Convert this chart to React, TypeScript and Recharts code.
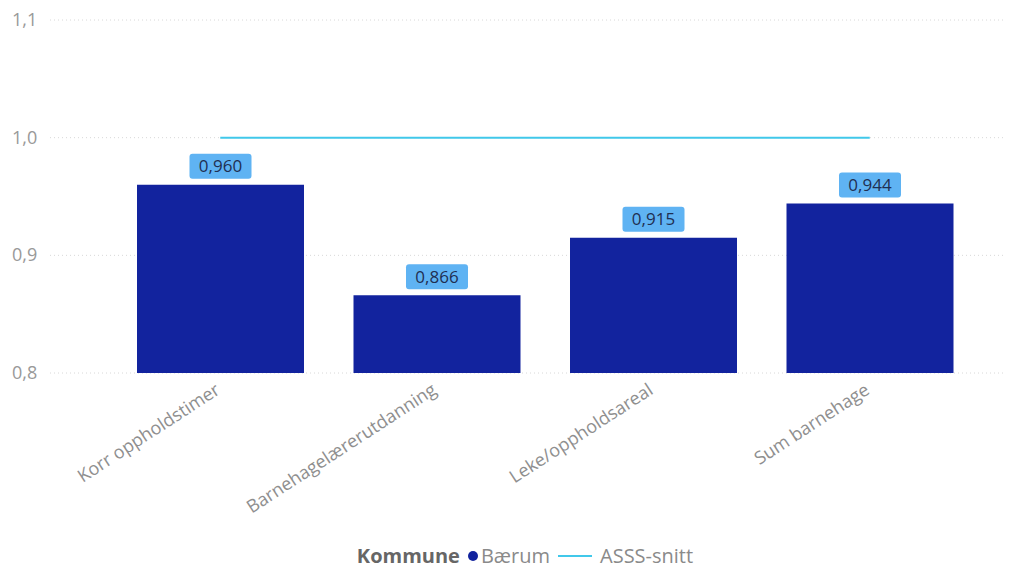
import React from 'react';
import { ComposedChart, Bar, Line, XAxis, YAxis, CartesianGrid, Legend, LabelList } from 'recharts';

const categories = ['Korr oppholdstimer', 'Barnehagelærerutdanning', 'Leke/oppholdsareal', 'Sum barnehage'];
const baerum = [0.96, 0.866, 0.915, 0.944];
const asss = [1.0, 1.0, 1.0, 1.0];
const yTicks = [0.8, 0.9, 1.0, 1.1];

const data = categories.map((c, i) => ({ name: c, baerum: baerum[i], asss: asss[i] }));

const FONT = '"Open Sans", "Noto Sans", sans-serif';
const fmt3 = (v: number) => v.toFixed(3).replace('.', ',');
const fmt1 = (v: number) => v.toFixed(1).replace('.', ',');

const XTick = (props: any) => {
  const { x, y, payload } = props;
  return (
    <g transform={`translate(${x + 1},${y + 12}) rotate(-33)`}>
      <text x={0} y={0} textAnchor="end" fill="#8f8f8f" fontSize={18} fontFamily={FONT}>
        {payload.value}
      </text>
    </g>
  );
};

const YTick = (props: any) => {
  const { y, payload } = props;
  return (
    <text x={12} y={y + 6} textAnchor="start" fill="#999" fontSize={18} fontFamily={FONT}>
      {fmt1(payload.value)}
    </text>
  );
};

const ValueLabel = (props: any) => {
  const { x, y, width, value } = props;
  const cx = x + width / 2;
  const w = 62;
  const h = 25;
  const top = y - 6 - h;
  return (
    <g>
      <rect x={cx - w / 2} y={top} width={w} height={h} rx={3} ry={3} fill="#5fb3f3" />
      <text x={cx} y={top + 18.5} textAnchor="middle" fill="#1f2f52" fontSize={17} fontFamily={FONT}>
        {fmt3(value)}
      </text>
    </g>
  );
};

const LegendContent = () => (
  <div
    style={{
      display: 'flex',
      justifyContent: 'center',
      alignItems: 'center',
      fontFamily: FONT,
      fontSize: 20,
      color: '#8a8a8a',
      height: 34,
      paddingTop: 10,
      paddingLeft: 45,
      boxSizing: 'border-box',
      lineHeight: '24px',
    }}
  >
    <span style={{ fontWeight: 700, color: '#666', marginRight: 8 }}>Kommune</span>
    <span style={{ display: 'inline-block', width: 10, height: 10, borderRadius: 5, background: '#12239e', marginRight: 3 }} />
    <span style={{ marginRight: 8 }}>Bærum</span>
    <span style={{ display: 'inline-block', width: 34, height: 2, background: '#41c8ea', marginRight: 8 }} />
    <span>ASSS-snitt</span>
  </div>
);

export default function App() {
  return (
    <div style={{ position: 'absolute', left: 0, top: 0, width: 1010, height: 568, background: '#fff' }}>
      <ComposedChart width={1010} height={568} data={data} margin={{ top: 20, right: 5, bottom: 0, left: 0 }}>
        <CartesianGrid horizontal vertical={false} stroke="#d8d8d8" strokeDasharray="1 3" />
        <XAxis
          dataKey="name"
          axisLine={false}
          tickLine={false}
          interval={0}
          height={161}
          tick={<XTick />}
          padding={{ left: 62, right: 27 }}
        />
        <YAxis
          domain={[0.8, 1.1]}
          ticks={yTicks}
          allowDataOverflow
          axisLine={false}
          tickLine={false}
          width={50}
          tick={<YTick />}
        />
        <Legend verticalAlign="bottom" height={34} content={<LegendContent />} />
        <Bar dataKey="baerum" name="Bærum" fill="#12239e" barSize={167} isAnimationActive={false}>
          <LabelList dataKey="baerum" content={<ValueLabel />} />
        </Bar>
        <Line dataKey="asss" name="ASSS-snitt" stroke="#41c8ea" strokeWidth={2} dot={false} activeDot={false} isAnimationActive={false} />
      </ComposedChart>
    </div>
  );
}
